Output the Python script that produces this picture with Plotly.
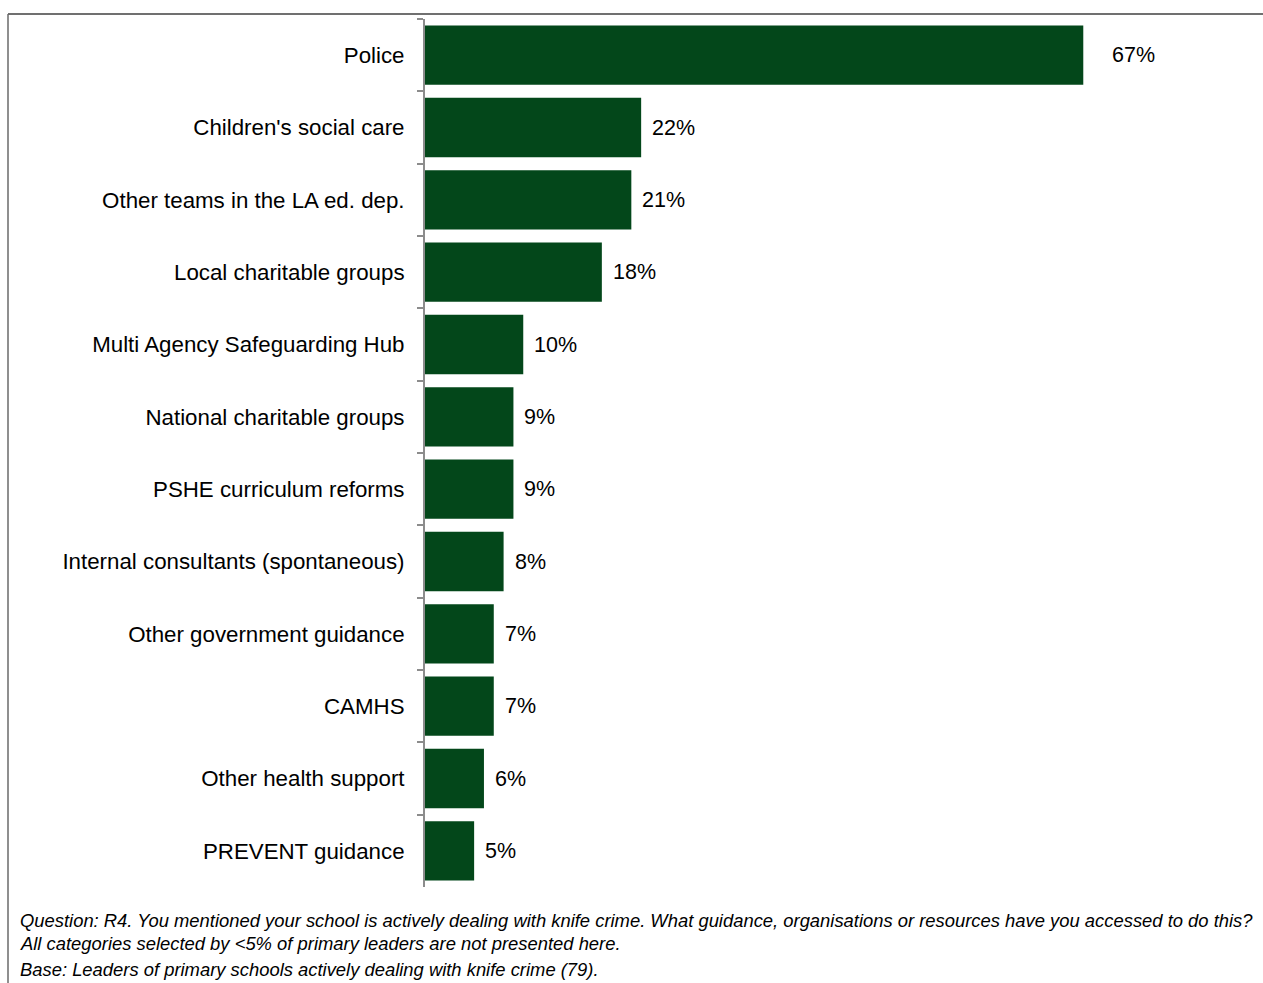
import plotly.graph_objects as go

categories = [
    "Police",
    "Children's social care",
    "Other teams in the LA ed. dep.",
    "Local charitable groups",
    "Multi Agency Safeguarding Hub",
    "National charitable groups",
    "PSHE curriculum reforms",
    "Internal consultants (spontaneous)",
    "Other government guidance",
    "CAMHS",
    "Other health support",
    "PREVENT guidance",
]
values = [67, 22, 21, 18, 10, 9, 9, 8, 7, 7, 6, 5]
value_labels = ["67%", "22%", "21%", "18%", "10%", "9%", "9%", "8%", "7%", "7%", "6%", "5%"]

footnote_lines = [
    "Question: R4. You mentioned your school is actively dealing with knife crime. What guidance, organisations or resources have you accessed to do this?",
    "All categories selected by <5% of primary leaders are not presented here.",
    "Base: Leaders of primary schools actively dealing with knife crime (79).",
]

W, H = 1263, 983
ML, MR, MT, MB = 425, 52, 19, 96
XMAX = 80
plot_w = W - ML - MR
plot_h = H - MT - MB

FONT = "Liberation Sans, Arial, sans-serif"
BAR = "#03471A"

fig = go.Figure()
fig.add_trace(go.Bar(
    y=categories, x=values, orientation="h",
    marker=dict(color=BAR, line=dict(width=0)),
    width=0.82,
    hoverinfo="skip",
))

annotations = []
for i, (c, v, t) in enumerate(zip(categories, values, value_labels)):
    annotations.append(dict(
        x=v, y=c, xref="x", yref="y", text=t, showarrow=False,
        xanchor="left", yanchor="middle",
        xshift=27 if i == 0 else 9,
        font=dict(family=FONT, size=21.5, color="#000000"),
    ))

def px_to_paper_x(px):
    return (px - ML) / plot_w

def px_to_paper_y(py):
    return 1 - (py - MT) / plot_h

foot_y = [920, 944, 969]
for line, yy in zip(footnote_lines, foot_y):
    annotations.append(dict(
        x=px_to_paper_x(18), y=px_to_paper_y(yy), xref="paper", yref="paper",
        text="<i>" + line + "</i>", showarrow=False,
        xanchor="left", yanchor="middle",
        font=dict(family=FONT, size=18.4, color="#000000"),
    ))

shapes = [
    dict(type="line", xref="paper", yref="paper",
         x0=px_to_paper_x(8), x1=px_to_paper_x(W + 5),
         y0=px_to_paper_y(14), y1=px_to_paper_y(14),
         line=dict(color="#404040", width=1.5)),
    dict(type="line", xref="paper", yref="paper",
         x0=px_to_paper_x(8), x1=px_to_paper_x(8),
         y0=px_to_paper_y(14), y1=px_to_paper_y(H + 5),
         line=dict(color="#6a6a6a", width=1.5)),
]

fig.update_layout(
    width=W, height=H,
    margin=dict(l=ML, r=MR, t=MT, b=MB, pad=0),
    paper_bgcolor="white", plot_bgcolor="white",
    showlegend=False,
    xaxis=dict(range=[0, XMAX], visible=False, fixedrange=True),
    yaxis=dict(
        type="category", autorange="reversed",
        showline=True, linecolor="#8c8c8c", linewidth=2,
        ticks="outside", tickson="boundaries", ticklen=6, tickcolor="#8c8c8c", tickwidth=1.5,
        tickfont=dict(family=FONT, size=22.3, color="#000000"),
        ticklabelstandoff=14,
        showgrid=False, zeroline=False, fixedrange=True,
    ),
    annotations=annotations,
    shapes=shapes,
)

fig.write_html("out.html")
